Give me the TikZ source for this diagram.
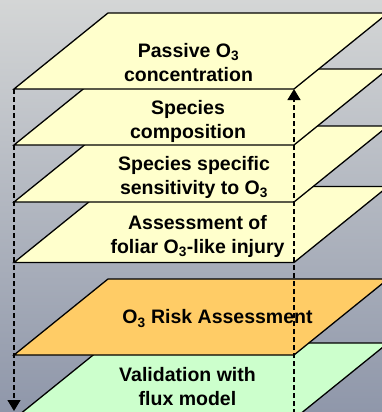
\documentclass[tikz,border=0pt]{standalone}
\usepackage{fontspec}
\setmainfont{Liberation Sans}
\usetikzlibrary{arrows.meta}
\definecolor{plateY}{RGB}{255,255,204}
\definecolor{plateO}{RGB}{255,204,102}
\definecolor{plateG}{RGB}{204,255,204}
\definecolor{bgTop}{RGB}{212,214,214}
\definecolor{bgMid}{RGB}{192,197,200}
\definecolor{bgBot}{RGB}{143,151,170}
\begin{document}
\begin{tikzpicture}[x=1pt,y=-1pt,
  plate/.style={draw=black,line width=1.3pt,line join=miter},
  lbl/.style={font=\fontsize{19.5}{24}\selectfont\bfseries,align=center,text=black,inner sep=0pt},
  guide/.style={line width=1.3pt,dash pattern=on 5pt off 3pt},
  tip/.style={-{Triangle[width=13pt,length=11pt]}}]
\useasboundingbox (0,0) rectangle (382,412);
\begin{scope}
\clip (0,0) rectangle (382,412);
\shade[top color=bgTop, middle color=bgMid, bottom color=bgBot] (0,0) rectangle (382,412);
\foreach \b/\c in {419/plateG,355/plateO,262.5/plateY,202/plateY,145/plateY,89/plateY}
  \filldraw[plate, fill=\c] (14,\b) -- (294,\b) -- (388,\b-76) -- (108,\b-76) -- cycle;
\end{scope}
\node[lbl] (t1) at (188.5,62.5) {Passive O\textsubscript{3}\\concentration};
\node[lbl] (t2) at (188,121) {Species\\composition};
\node[lbl] (t3) at (194,177.5) {Species specific\\sensitivity to O\textsubscript{3}};
\node[lbl] (t4) at (197.5,236) {Assessment of\\foliar O\textsubscript{3}-like injury};
\node[lbl] (t5) at (217.5,318.5) {O\textsubscript{3} Risk Assessment};
\node[lbl] (t6) at (187.5,387) {Validation with\\flux model};
\coordinate (topL) at (14,89);
\coordinate (topR) at (294,89);
\coordinate (botL) at (14,411);
\coordinate (botR) at (294,414);
\draw[guide,tip] (topL) -- (botL);
\draw[guide,tip] (botR) -- (topR);
\end{tikzpicture}
\end{document}
